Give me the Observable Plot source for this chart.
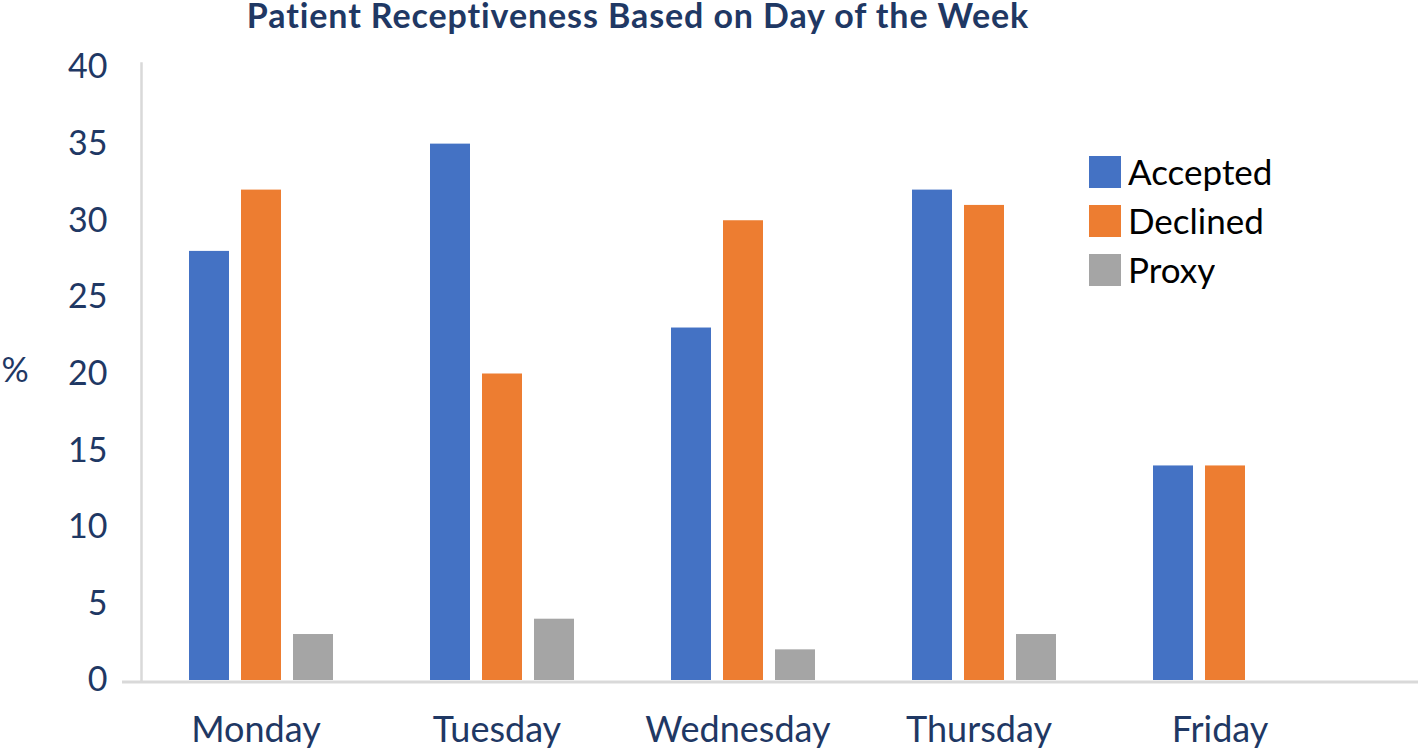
<!DOCTYPE html>
<html><head><meta charset="utf-8">
<script src="https://cdn.jsdelivr.net/npm/d3@7"></script>
<script src="https://cdn.jsdelivr.net/npm/@observablehq/plot@0.6"></script>
<style>
body{margin:0;background:#fff;}
#wrap{position:relative;width:1418px;height:753px;overflow:hidden;font-family:Lato,sans-serif;}
#title{position:absolute;top:0;left:0;width:1276px;text-align:center;font:bold 34px Lato,sans-serif;line-height:30px;letter-spacing:0.9px;color:#1F3864;white-space:nowrap;z-index:2;}
#chart{position:absolute;left:0;top:0;}
#legend{position:absolute;left:1089px;top:147px;width:320px;z-index:2;}
#legend div{font:35px Lato,sans-serif;line-height:49px;color:#000;margin:0;padding:0;}
#legend svg{margin-right:7px !important;}
</style></head><body>
<div id="wrap"><div id="chart"></div><div id="title"></div><div id="legend"></div></div>
<script>
const title = "Patient Receptiveness Based on Day of the Week";
const days = ["Monday", "Tuesday", "Wednesday", "Thursday", "Friday"];
const series = ["Accepted", "Declined", "Proxy"];
const accepted = [28, 35, 23, 32, 14];
const declined = [32, 20, 30, 31, 14];
const proxy = [3, 4, 2, 3, 0];
const colors = ["#4472C4", "#ED7D31", "#A5A5A5"];
const yTicks = [0, 5, 10, 15, 20, 25, 30, 35, 40];
const yLabel = "%";

const seriesValues = [accepted, declined, proxy];
const data = days.flatMap((day, i) => series.map((s, j) => ({day, series: s, value: seriesValues[j][i]})));

document.getElementById("title").textContent = title;

const navy = "#1F3864";
const chart = Plot.plot({
  width: 1418, height: 753,
  marginLeft: 142, marginRight: 0, marginTop: 67, marginBottom: 73,
  style: {fontFamily: "Lato, sans-serif", background: "transparent", overflow: "visible"},
  fx: {domain: days, range: [140, 1347.5], padding: 0, label: null},
  x: {domain: series, paddingInner: 12 / 53, paddingOuter: 0.8915, axis: null},
  y: {domain: [0, 40], label: null},
  color: {domain: series, range: colors},
  marks: [
    Plot.frame({anchor: "bottom", stroke: "#D9D9D9", strokeWidth: 3, facet: "super", insetLeft: -18, insetRight: -72, insetBottom: -1.5}),
    Plot.frame({anchor: "left", stroke: "#D9D9D9", strokeWidth: 2.5, facet: "super", insetTop: -4}),
    Plot.barY(data, {fx: "day", x: "series", y: "value", fill: "series"}),
    Plot.axisY({ticks: yTicks, tickSize: 0, tickPadding: 34, fontSize: 34, color: navy, label: null}),
    Plot.axisFx({anchor: "bottom", tickSize: 0, tickPadding: 36, fontSize: 36, color: navy, label: null, dx: -6}),
    Plot.text([yLabel], {frameAnchor: "left", dx: -140, dy: -3, facet: "super", fontSize: 34, fill: navy})
  ]
});
document.getElementById("chart").appendChild(chart);

const legend = Plot.legend({color: {domain: series, range: colors}, legend: "swatches", columns: 1, swatchSize: 32});
document.getElementById("legend").appendChild(legend);
</script>
</body></html>
